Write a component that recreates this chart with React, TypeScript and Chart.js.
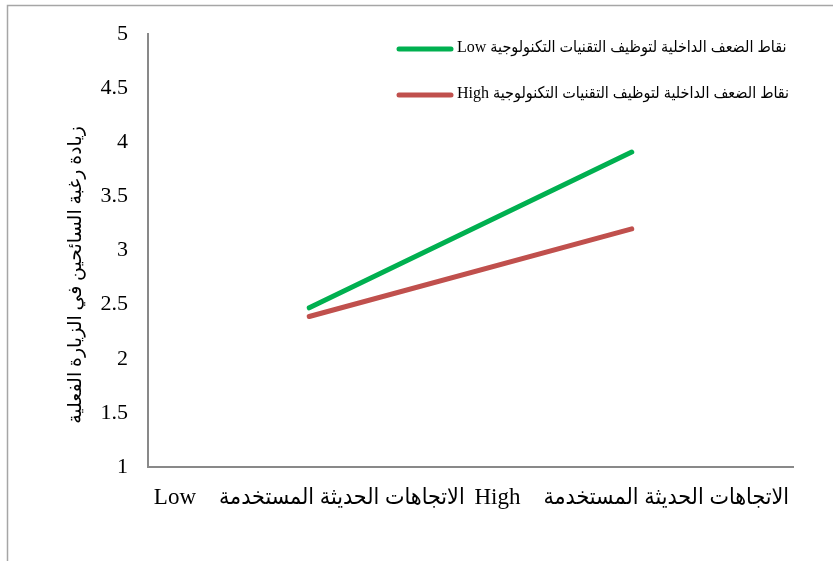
import React, { useEffect, useRef } from "react";
import { Chart, registerables } from "chart.js";

Chart.register(...registerables);

const categories: string[] = [
  "الاتجاهات الحديثة المستخدمة    Low",
  "الاتجاهات الحديثة المستخدمة    High",
];
const seriesLowLabel = "نقاط الضعف الداخلية لتوظيف التقنيات التكنولوجية Low";
const seriesHighLabel = "نقاط الضعف الداخلية لتوظيف التقنيات التكنولوجية High";
const seriesLow: number[] = [2.47, 3.91];
const seriesHigh: number[] = [2.39, 3.2];
const yTitle = "زيادة رغبة السائحين في الزيارة الفعلية";
const yMin = 1;
const yMax = 5;
const yStep = 0.5;

const GREEN = "#00B050";
const RED = "#C0504D";
const AXIS = "#898989";
const FONT = "'Liberation Serif', 'DejaVu Sans Condensed', 'DejaVu Sans', serif";
const TITLE_FONT = "'Liberation Serif', 'DejaVu Sans', serif";

const decorPlugin = {
  id: "decor",
  beforeDraw(chart: any) {
    const ctx = chart.ctx;
    ctx.save();
    ctx.strokeStyle = "#A6A6A6";
    ctx.lineWidth = 1.5;
    ctx.beginPath();
    ctx.moveTo(7.5, 561);
    ctx.lineTo(7.5, 5.5);
    ctx.lineTo(833, 5.5);
    ctx.stroke();
    ctx.restore();
  },
  afterDraw(chart: any) {
    const ctx = chart.ctx;
    ctx.save();
    ctx.direction = "rtl";
    ctx.fillStyle = "#000";
    ctx.font = `19px ${TITLE_FONT}`;
    ctx.textAlign = "center";
    ctx.textBaseline = "middle";
    ctx.translate(76, 275);
    ctx.rotate(-Math.PI / 2);
    ctx.fillText(yTitle, 0, 0);
    ctx.restore();

    const items = chart.data.datasets;
    const ys = [49, 95];
    items.forEach((ds: any, i: number) => {
      const y = ys[i];
      ctx.save();
      ctx.strokeStyle = ds.borderColor;
      ctx.lineWidth = 5;
      ctx.lineCap = "round";
      ctx.beginPath();
      ctx.moveTo(399, y);
      ctx.lineTo(451, y);
      ctx.stroke();
      ctx.direction = "rtl";
      ctx.fillStyle = "#000";
      ctx.font = `16px ${FONT}`;
      ctx.textAlign = "left";
      ctx.textBaseline = "middle";
      ctx.fillText(ds.label, 457, y - 1);
      ctx.restore();
    });
  },
};

export default function App() {
  const ref = useRef<HTMLCanvasElement>(null);
  useEffect(() => {
    document.body.style.margin = "0";
    const canvas = ref.current!;
    const chart = new Chart(canvas, {
      type: "line",
      data: {
        labels: categories,
        datasets: [
          {
            label: seriesLowLabel,
            data: seriesLow,
            borderColor: GREEN,
            backgroundColor: GREEN,
            borderWidth: 5,
            borderCapStyle: "round",
            pointRadius: 0,
            tension: 0,
          },
          {
            label: seriesHighLabel,
            data: seriesHigh,
            borderColor: RED,
            backgroundColor: RED,
            borderWidth: 5,
            borderCapStyle: "round",
            pointRadius: 0,
            tension: 0,
          },
        ],
      },
      options: {
        responsive: false,
        animation: false,
        devicePixelRatio: 1,
        layout: { padding: { top: 34, right: 42, left: 0, bottom: 0 } },
        plugins: {
          legend: { display: false },
          tooltip: { enabled: false },
          title: { display: false },
        },
        scales: {
          x: {
            type: "category",
            offset: true,
            grid: { display: false, drawTicks: false },
            border: { display: true, color: AXIS, width: 2 },
            ticks: {
              color: "#000",
              font: { family: FONT, size: 23 },
              padding: 17,
              maxRotation: 0,
              autoSkip: false,
            },
            afterFit: (scale: any) => {
              scale.height = 94;
            },
          },
          y: {
            min: yMin,
            max: yMax,
            grid: { display: false, drawTicks: false },
            border: { display: true, color: AXIS, width: 2 },
            ticks: {
              stepSize: yStep,
              color: "#000",
              font: { family: FONT, size: 22 },
              padding: 20,
              callback: (v: any) => String(Number(v)),
            },
            afterFit: (scale: any) => {
              scale.width = 148;
            },
          },
        },
      },
      plugins: [decorPlugin],
    } as any);
    return () => chart.destroy();
  }, []);
  return (
    <div style={{ position: "absolute", left: 0, top: 0, width: 835, height: 561, background: "#fff" }}>
      <canvas ref={ref} width={835} height={561} dir="rtl" />
    </div>
  );
}
